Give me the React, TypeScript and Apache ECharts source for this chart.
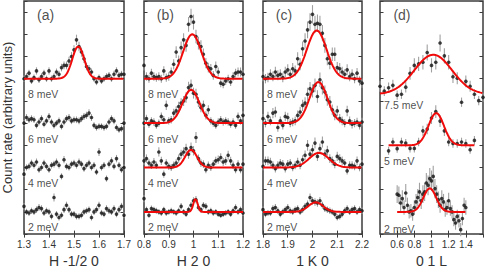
import { useEffect, useRef } from "react";
import * as echarts from "echarts";

// ---------- measurement grids (x) ----------
const xA = [1.30, 1.31, 1.32, 1.33, 1.34, 1.35, 1.36, 1.37, 1.38, 1.39, 1.40, 1.41, 1.42, 1.43, 1.44, 1.45, 1.46, 1.47, 1.48, 1.49, 1.50, 1.51, 1.52, 1.53, 1.54, 1.55, 1.56, 1.57, 1.58, 1.59, 1.60, 1.61, 1.62, 1.63, 1.64, 1.65, 1.66, 1.67, 1.68, 1.69, 1.70];
const xB = [0.80, 0.81, 0.82, 0.83, 0.84, 0.85, 0.86, 0.87, 0.88, 0.89, 0.90, 0.91, 0.92, 0.93, 0.94, 0.95, 0.96, 0.97, 0.98, 0.99, 1.00, 1.01, 1.02, 1.03, 1.04, 1.05, 1.06, 1.07, 1.08, 1.09, 1.10, 1.11, 1.12, 1.13, 1.14, 1.15, 1.16, 1.17, 1.18, 1.19, 1.20];
const xC = [1.80, 1.81, 1.82, 1.83, 1.84, 1.85, 1.86, 1.87, 1.88, 1.89, 1.90, 1.91, 1.92, 1.93, 1.94, 1.95, 1.96, 1.97, 1.98, 1.99, 2.00, 2.01, 2.02, 2.03, 2.04, 2.05, 2.06, 2.07, 2.08, 2.09, 2.10, 2.11, 2.12, 2.13, 2.14, 2.15, 2.16, 2.17, 2.18, 2.19, 2.20];
const xD75 = [0.40, 0.45, 0.50, 0.55, 0.60, 0.65, 0.70, 0.75, 0.80, 0.85, 0.90, 0.95, 1.00, 1.05, 1.10, 1.15, 1.20, 1.25, 1.30, 1.35, 1.40, 1.45, 1.50, 1.55, 1.60];
const xD5 = [0.50, 0.55, 0.60, 0.65, 0.70, 0.75, 0.80, 0.85, 0.90, 0.95, 1.00, 1.05, 1.10, 1.15, 1.20, 1.25, 1.30, 1.35, 1.40, 1.45, 1.50];
const xD2 = [0.60, 0.62, 0.64, 0.66, 0.68, 0.70, 0.72, 0.74, 0.76, 0.78, 0.80, 0.82, 0.84, 0.86, 0.88, 0.90, 0.92, 0.94, 0.96, 0.98, 1.00, 1.02, 1.04, 1.06, 1.08, 1.10, 1.12, 1.14, 1.16, 1.18, 1.20, 1.22, 1.24, 1.26, 1.28, 1.30, 1.32, 1.34, 1.36, 1.38, 1.40];

// ---------- count rates above each scan's offset ----------
const a8 = [0.0, 0.1, 0.25, -0.1, 0.05, 0.35, -0.05, 0.1, 0.25, 0.0, 0.35, 0.0, 0.1, 0.3, 0.2, 0.5, 0.6, 0.6, 0.8, 1.0, 1.3, 1.75, 1.45, 1.2, 0.9, 0.55, 0.45, 0.3, 0.0, -0.15, 0.05, -0.1, 0.0, 0.1, 0.15, 0.0, 0.2, 0.35, 0.15, 0.2, 0.2];
const a6 = [0.0, 0.25, 0.15, 0.2, 0.15, -0.1, 0.05, 0.2, -0.05, 0.1, 0.3, 0.05, -0.1, 0.0, 0.1, -0.15, 0.05, 0.2, 0.25, 0.1, 0.15, 0.15, 0.1, 0.2, 0.3, 0.35, 0.45, 0.25, -0.1, -0.2, -0.15, -0.15, -0.2, -0.15, 0.05, 0.2, 0.1, -0.2, -0.3, -0.25, 0.0];
const a4 = [-0.3, 0.0, 0.05, 0.2, 0.1, 0.25, -0.1, 0.0, 0.2, 0.05, -0.1, 0.1, 0.15, 0.25, 0.1, -0.4, 0.35, 0.05, 0.0, 0.15, 0.2, 0.1, 0.25, 0.15, -0.05, 0.1, 0.2, 0.0, 0.1, -0.2, 0.7, 0.0, 0.1, -0.5, 0.15, 0.3, 0.05, 0.4, 0.1, -0.1, 0.0];
const a2 = [0.25, 0.0, -0.05, 0.05, 0.0, 0.1, 0.2, 0.15, -0.05, 0.05, 0.0, -0.2, 0.65, -0.1, -0.25, -0.15, 0.1, 0.3, 0.1, -0.1, -0.1, -0.2, -0.2, -0.15, 0.0, 0.05, 0.1, -0.25, 0.0, 0.1, 0.3, -0.05, -0.1, 0.15, 0.05, 0.0, 0.15, -0.1, 0.1, 0.25, -0.15];

const b8 = [0.6, 0.1, 0.0, 0.25, 0.1, 0.05, 0.1, 0.0, 0.35, 0.05, 0.1, 0.3, 0.65, 1.2, 0.8, 1.4, 1.75, 1.5, 2.45, 2.8, 2.55, 1.9, 1.6, 1.45, 1.1, 0.7, 0.5, 0.45, 0.15, 0.55, 0.3, -0.2, -0.25, -0.1, 0.0, -0.15, 0.1, 0.25, 0.3, 0.3, 0.2];
const b6 = [0.0, 0.2, -0.05, 0.1, 0.05, -0.1, 0.0, 0.3, 0.15, 0.8, 0.1, 0.15, 0.45, 0.55, 0.75, 0.9, 1.0, 1.15, 1.6, 1.7, 1.35, 1.3, 0.95, 0.7, 0.8, 0.35, 0.6, 0.1, 0.0, -0.1, 0.05, 0.15, 0.05, 0.1, 0.05, -0.05, 0.05, -0.1, 0.3, 0.1, 0.35];
const b4 = [0.3, 0.4, 0.2, 0.1, 0.25, 0.1, 0.7, 0.3, -0.3, 0.2, 0.05, 0.0, 0.1, 0.2, 0.4, 0.6, 0.7, 0.85, 0.6, 0.9, 0.75, 1.35, 0.4, 0.2, 0.15, -0.1, 0.1, 0.0, 0.15, 0.3, 0.35, 0.45, 0.25, 0.3, 0.55, 0.3, 0.1, -0.1, 0.15, -0.1, 0.15];
const b2 = [0.6, 0.1, -0.15, 0.15, 0.1, 0.05, 0.0, -0.05, 0.1, -0.05, 0.0, 0.05, 0.0, -0.05, 0.05, 0.25, 0.0, -0.1, 0.1, 0.3, 0.5, 0.55, 0.2, 0.1, 0.3, 0.25, 0.0, 0.05, -0.05, 0.0, -0.1, -0.15, -0.1, -0.05, 0.0, -0.1, 0.05, 0.2, 0.0, 0.1, -0.05];

const c8 = [0.1, 0.0, 0.05, 0.2, 0.1, 0.3, 0.15, 0.2, 0.05, 0.3, 0.4, 0.2, 0.45, 0.35, 0.9, 0.65, 1.35, 1.7, 2.2, 2.55, 2.9, 2.45, 2.5, 2.45, 2.05, 1.5, 0.9, 0.7, 1.1, 1.1, 0.5, 0.45, 0.3, 0.2, 0.4, 0.1, 0.2, 0.0, 0.25, -0.1, -0.2];
const c6 = [0.2, 0.0, 0.3, 0.1, 0.45, 0.5, -0.2, 0.1, -0.1, 0.3, 0.25, 0.0, 0.05, 0.1, 0.35, 0.5, 0.8, 0.9, 1.3, 1.55, 1.45, 1.7, 1.2, 1.95, 1.6, 1.4, 1.05, 0.95, 0.6, 0.35, 0.55, 0.2, 0.1, 0.0, 0.55, 0.1, -0.05, 0.0, 0.05, -0.1, 0.05];
const c4 = [0.05, 0.3, 0.3, 0.25, 0.1, -0.05, 0.1, 0.2, 0.15, -0.05, 0.15, 0.2, 0.0, 0.1, 0.25, 0.1, 0.35, 0.55, 1.0, 0.6, 0.8, 1.1, 0.5, 0.85, 1.15, 0.6, 0.75, 0.4, 0.3, 0.15, 0.5, 0.4, 0.3, 0.2, -0.15, 0.1, 0.1, 0.05, 0.3, 0.0, 0.15];
const c2 = [0.1, -0.1, -0.05, -0.05, 0.15, 0.2, 0.05, -0.1, 0.0, 0.1, 0.2, 0.05, 0.0, 0.1, 0.15, 0.0, 0.1, 0.25, 0.35, 0.65, 0.5, 0.45, 0.4, 0.5, 0.3, 0.15, 0.1, 0.05, 0.0, -0.1, -0.25, -0.2, -0.1, 0.05, 0.15, 0.0, 0.1, 0.15, 0.0, 0.1, 0.05];

const d75 = [0.36, 0.14, 0.29, 0.40, -0.04, 0.0, 0.32, 0.94, 1.3, 1.37, 1.44, 1.88, 1.3, 1.44, 2.31, 1.73, 1.44, 0.79, 0.72, -0.36, 0.58, 0.36, 0.0, -0.29, -0.14];
const d5 = [-0.25, 0.15, -0.15, 0.15, 0.1, -0.14, -0.14, 0.15, 0.65, 0.73, 1.23, 1.52, 1.09, 0.65, 0.15, 0.08, 0.08, 0.15, 0.08, -0.2, 0.22];
const d2 = [0.8, 0.75, 0.4, 0.6, 0.2, 0.85, 0.3, 0.0, 0.05, -0.1, 0.2, 0.45, 0.65, 0.9, 0.5, 0.8, 0.9, 1.3, 1.2, 1.5, 1.4, 1.6, 1.05, 0.8, 0.55, 0.3, 0.6, 0.45, 0.1, 0.2, 0.5, 0.15, 0.0, -0.35, -0.5, -0.2, -0.4, -0.8, -0.3, 0.3, 0.2];

// ---------- scan labels, offsets ----------
const energyLabelsABC = ["8 meV", "6 meV", "4 meV", "2 meV"];
const offsetsABC = [7, 5, 3, 1];
const energyLabelsD = ["7.5 meV", "5 meV", "2 meV"];
const offsetsD = [6.3, 4, 1];

// Gaussian fits: [center, sigma, amplitude]
const fitA8 = [1.517, 0.024, 1.45];
const fitB = [[0.995, 0.037, 2.0], [0.99, 0.034, 1.5], [0.99, 0.024, 0.8], [1.008, 0.009, 0.58]];
const fitC = [[2.017, 0.04, 2.17], [2.024, 0.036, 1.85], [2.026, 0.04, 0.66], [2.013, 0.03, 0.43]];
const fitD = [[1.02, 0.22, 1.78], [1.055, 0.09, 1.45], [0.98, 0.075, 1.06]];

const panelLetters = ["(a)", "(b)", "(c)", "(d)"];
const axisNames = ["H -1/2 0", "H 2 0", "1 K 0", "0 1 L"];
const yAxisName = "Count rate (arbitrary units)";

type Scan = { label: string; offset: number; x: number[]; y: number[]; err: number; fit?: number[]; labelDrop: number };
type Panel = { min: number; max: number; interval: number; left: number; width: number; hideEnds: boolean; scans: Scan[] };

const FONT = "'Liberation Sans', Arial, Helvetica, sans-serif";

const panels: Panel[] = [
  {
    min: 1.3, max: 1.7, interval: 0.1, left: 24, width: 100, hideEnds: false,
    scans: [
      { label: energyLabelsABC[0], offset: offsetsABC[0], x: xA, y: a8, err: 0.14, fit: fitA8, labelDrop: 0.7 },
      { label: energyLabelsABC[1], offset: offsetsABC[1], x: xA, y: a6, err: 0.14, labelDrop: 0.7 },
      { label: energyLabelsABC[2], offset: offsetsABC[2], x: xA, y: a4, err: 0.14, labelDrop: 0.7 },
      { label: energyLabelsABC[3], offset: offsetsABC[3], x: xA, y: a2, err: 0.14, labelDrop: 0.7 },
    ],
  },
  {
    min: 0.8, max: 1.2, interval: 0.1, left: 144, width: 99, hideEnds: false,
    scans: [
      { label: energyLabelsABC[0], offset: offsetsABC[0], x: xB, y: b8, err: 0.18, fit: fitB[0], labelDrop: 0.7 },
      { label: energyLabelsABC[1], offset: offsetsABC[1], x: xB, y: b6, err: 0.16, fit: fitB[1], labelDrop: 0.7 },
      { label: energyLabelsABC[2], offset: offsetsABC[2], x: xB, y: b4, err: 0.16, fit: fitB[2], labelDrop: 0.7 },
      { label: energyLabelsABC[3], offset: offsetsABC[3], x: xB, y: b2, err: 0.13, fit: fitB[3], labelDrop: 0.7 },
    ],
  },
  {
    min: 1.8, max: 2.2, interval: 0.1, left: 263, width: 99, hideEnds: false,
    scans: [
      { label: energyLabelsABC[0], offset: offsetsABC[0], x: xC, y: c8, err: 0.21, fit: fitC[0], labelDrop: 0.7 },
      { label: energyLabelsABC[1], offset: offsetsABC[1], x: xC, y: c6, err: 0.19, fit: fitC[1], labelDrop: 0.7 },
      { label: energyLabelsABC[2], offset: offsetsABC[2], x: xC, y: c4, err: 0.17, fit: fitC[2], labelDrop: 0.7 },
      { label: energyLabelsABC[3], offset: offsetsABC[3], x: xC, y: c2, err: 0.14, fit: fitC[3], labelDrop: 0.7 },
    ],
  },
  {
    min: 0.4, max: 1.6, interval: 0.2, left: 380, width: 103, hideEnds: true,
    scans: [
      { label: energyLabelsD[0], offset: offsetsD[0], x: xD75, y: d75, err: 0.21, fit: fitD[0], labelDrop: 0.5 },
      { label: energyLabelsD[1], offset: offsetsD[1], x: xD5, y: d5, err: 0.18, fit: fitD[1], labelDrop: 0.7 },
      { label: energyLabelsD[2], offset: offsetsD[2], x: xD2, y: d2, err: 0.3, fit: fitD[2], labelDrop: 0.75 },
    ],
  },
];

const fmt = (v: number) => String(+(+v).toFixed(2));

function buildOption() {
  const grid: any[] = [];
  const xAxis: any[] = [];
  const yAxis: any[] = [];
  const series: any[] = [];

  panels.forEach((p, pi) => {
    grid.push({ left: p.left, width: p.width, top: 1, height: 241.5, show: true, borderColor: "#3c3c3c", borderWidth: 1.5, backgroundColor: "transparent", containLabel: false });
    const tick = { show: true, inside: true, length: 3.5, lineStyle: { color: "#3c3c3c", width: 1 } };
    xAxis.push({
      type: "value", gridIndex: pi, min: p.min, max: p.max, interval: p.interval, position: "bottom",
      axisLine: { show: false }, axisTick: tick, splitLine: { show: false },
      axisLabel: { show: true, fontSize: 10, color: "#333", margin: 5, fontFamily: FONT, formatter: fmt, showMinLabel: !p.hideEnds, showMaxLabel: !p.hideEnds },
      name: axisNames[pi], nameLocation: "middle", nameGap: 17, nameTextStyle: { fontSize: 14, color: "#333", fontFamily: FONT },
    });
    xAxis.push({
      type: "value", gridIndex: pi, min: p.min, max: p.max, interval: p.interval, position: "top",
      axisLine: { show: false }, axisTick: tick, splitLine: { show: false }, axisLabel: { show: false },
    });
    yAxis.push({
      type: "value", gridIndex: pi, min: 0, max: 10.5, interval: 1, position: "left",
      axisLine: { show: false }, axisTick: tick, splitLine: { show: false }, axisLabel: { show: false },
      ...(pi === 0 ? { name: yAxisName, nameLocation: "middle", nameGap: 10, nameRotate: 90, nameTextStyle: { fontSize: 13, color: "#333", fontFamily: FONT } } : {}),
    });
    yAxis.push({
      type: "value", gridIndex: pi, min: 0, max: 10.5, interval: 1, position: "right",
      axisLine: { show: false }, axisTick: tick, splitLine: { show: false }, axisLabel: { show: false },
    });

    const xi = pi * 2;
    const yi = pi * 2;

    p.scans.forEach((s) => {
      const pts = s.x.map((x, i) => [x, s.offset + s.y[i], s.err * Math.sqrt(1 + Math.max(s.y[i], 0))]);
      series.push({
        type: "custom", xAxisIndex: xi, yAxisIndex: yi, silent: true, z: 2,
        data: pts,
        encode: { x: 0, y: 1 },
        renderItem: (_params: any, api: any) => {
          const x = api.value(0), y = api.value(1), e = api.value(2);
          const p1 = api.coord([x, y - e]);
          const p2 = api.coord([x, y + e]);
          return { type: "line", shape: { x1: p1[0], y1: p1[1], x2: p2[0], y2: p2[1] }, style: { stroke: "#a0a0a0", lineWidth: 1.1 } };
        },
      });
      series.push({
        type: "scatter", xAxisIndex: xi, yAxisIndex: yi, silent: true, z: 3,
        symbol: "circle", symbolSize: 3.6, itemStyle: { color: "#111" },
        data: pts.map((q) => [q[0], q[1]]),
      });
      if (s.fit) {
        const [c, sg, amp] = s.fit;
        const x0 = s.x[0], x1 = s.x[s.x.length - 1];
        const n = 160;
        const curve: number[][] = [];
        for (let k = 0; k <= n; k++) {
          const x = x0 + ((x1 - x0) * k) / n;
          curve.push([x, s.offset + amp * Math.exp(-((x - c) * (x - c)) / (2 * sg * sg))]);
        }
        series.push({
          type: "line", xAxisIndex: xi, yAxisIndex: yi, silent: true, z: 4, showSymbol: false, symbol: "none",
          lineStyle: { color: "#f00a0a", width: 2 }, data: curve,
        });
      }
      series.push({
        type: "scatter", xAxisIndex: xi, yAxisIndex: yi, silent: true, z: 5, symbolSize: 0,
        data: [[p.min + (p.max - p.min) * 0.04, s.offset - s.labelDrop]],
        label: { show: true, position: [0, 0], align: "left", verticalAlign: "middle", formatter: s.label, fontSize: 10.5, color: "#222", fontFamily: FONT },
      });
    });
    series.push({
      type: "scatter", xAxisIndex: xi, yAxisIndex: yi, silent: true, z: 5, symbolSize: 0,
      data: [[p.min + (p.max - p.min) * 0.13, 9.85]],
      label: { show: true, position: [0, 0], align: "left", verticalAlign: "middle", formatter: panelLetters[pi], fontSize: 14, color: "#222", fontFamily: FONT },
    });
  });

  return { animation: false, backgroundColor: "#fff", grid, xAxis, yAxis, series };
}

export default function App() {
  const ref = useRef<HTMLDivElement>(null);
  useEffect(() => {
    if (!ref.current) return;
    const chart = echarts.init(ref.current, undefined, { renderer: "svg" });
    chart.setOption(buildOption() as any);
    return () => chart.dispose();
  }, []);
  return <div ref={ref} style={{ position: "fixed", left: 0, top: 0, width: 485, height: 273 }} />;
}
